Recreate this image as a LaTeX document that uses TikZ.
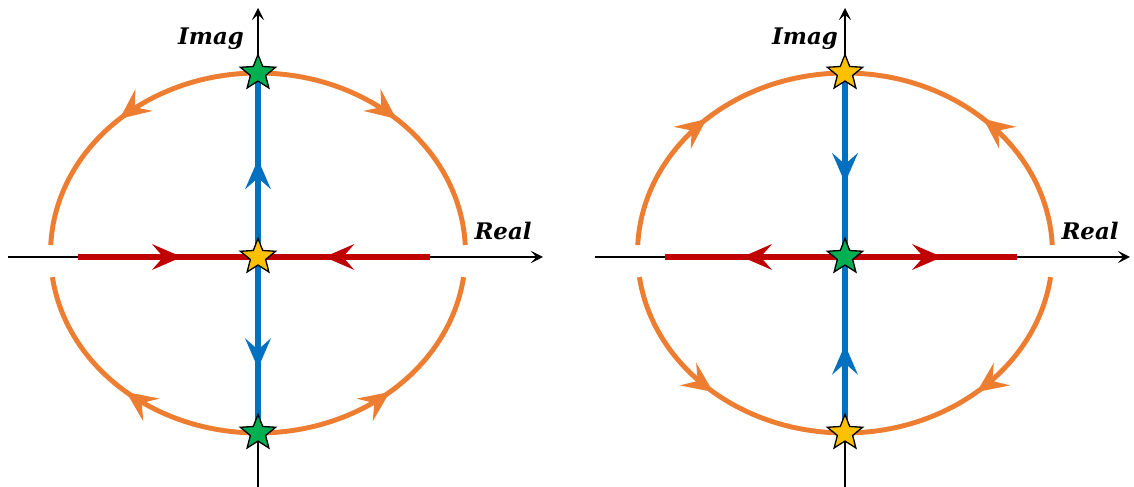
\documentclass[tikz,border=0pt]{standalone}
\usepackage{fontspec}
\newfontfamily\lblfont{DejaVu Serif}
\usetikzlibrary{arrows.meta,shapes.geometric,decorations.markings}
\definecolor{orng}{HTML}{ED7D31}
\definecolor{blu}{HTML}{0070C0}
\definecolor{rd}{HTML}{C00000}
\definecolor{grn}{HTML}{00B050}
\definecolor{ylw}{HTML}{FFC000}
\tikzset{
  bigtip/.tip={Stealth[length=0.6cm,width=0.52cm,inset=0.23cm,line width=0pt]},
  smalltip/.tip={Stealth[length=0.62cm,width=0.56cm,inset=0.24cm,line width=0pt]},
  fwd/.style={postaction={decorate,decoration={markings,mark=at position #1 with {\arrow{bigtip}}}}},
  bwd/.style={postaction={decorate,decoration={markings,mark=at position #1 with {\arrowreversed{bigtip}}}}},
  axisln/.style={line width=0.8pt,black,-{Stealth[length=7pt,width=7pt,inset=3.2pt]}},
  orarc/.style={orng,line width=2.8pt,postaction={decorate,decoration={markings,mark=at position 0.5 with {\arrow{smalltip}}}}},
  orarcrev/.style={orng,line width=2.8pt,postaction={decorate,decoration={markings,mark=at position 0.5 with {\arrowreversed{smalltip}}}}},
  redln/.style={rd,line width=2.9pt},
  bluln/.style={blu,line width=3.3pt},
  starnode/.style={star,star points=5,star point ratio=2.3,minimum size=0.74cm,inner sep=0pt,draw=black,line width=0.75pt},
  lbl/.style={font=\lblfont\bfseries\itshape\fontsize{13}{15}\selectfont,anchor=base,inner sep=0pt},
  ell/.style={x radius=4.15cm,y radius=3.6cm}
}
\begin{document}
\begin{tikzpicture}[x=0.02cm,y=0.02cm]
\useasboundingbox (0,0) rectangle (1134,487);
% ---------- left diagram ----------
\coordinate (T1) at (258,414);
\coordinate (B1) at (258,54);
\coordinate (C1) at (258,230);
\coordinate (HL1) at (8,230);
\coordinate (HR1) at (543,230);
\coordinate (VB1) at (258,0);
\coordinate (VT1) at (258,479);
\coordinate (RL1) at (78,230);
\coordinate (RR1) at (430,230);
\draw[axisln] (HL1) -- (HR1);
\draw[axisln] (VB1) -- (VT1);
\draw[orarc] (T1) arc[start angle=90,end angle=177.5,ell];
\draw[orarc] (T1) arc[start angle=90,end angle=2.5,ell];
\draw[orarc] (B1) arc[start angle=270,end angle=187.7,ell];
\draw[orarc] (B1) arc[start angle=270,end angle=352.3,ell];
\draw[redln,fwd=0.295,bwd=0.70] (RL1) -- (RR1);
\draw[bluln,bwd=0.24,fwd=0.82] (T1) -- (B1);
\node[starnode,fill=grn] (sT1) at (T1) {};
\node[starnode,fill=grn] (sB1) at (B1) {};
\node[starnode,fill=ylw] (sC1) at (C1) {};
\node[lbl] (imag1) at (211,442) {Imag};
\node[lbl] (real1) at (503,247) {Real};
% ---------- right diagram ----------
\begin{scope}[xshift=587*0.02cm]
\coordinate (T2) at (258,414);
\coordinate (B2) at (258,54);
\coordinate (C2) at (258,230);
\coordinate (HL2) at (8,230);
\coordinate (HR2) at (543,230);
\coordinate (VB2) at (258,0);
\coordinate (VT2) at (258,479);
\coordinate (RL2) at (78,230);
\coordinate (RR2) at (430,230);
\draw[axisln] (HL2) -- (HR2);
\draw[axisln] (VB2) -- (VT2);
\draw[orarcrev] (T2) arc[start angle=90,end angle=177.5,ell];
\draw[orarcrev] (T2) arc[start angle=90,end angle=2.5,ell];
\draw[orarcrev] (B2) arc[start angle=270,end angle=187.7,ell];
\draw[orarcrev] (B2) arc[start angle=270,end angle=352.3,ell];
\draw[redln,bwd=0.219,fwd=0.787] (RL2) -- (RR2);
\draw[bluln,fwd=0.305,bwd=0.755] (T2) -- (B2);
\node[starnode,fill=ylw] (sT2) at (T2) {};
\node[starnode,fill=ylw] (sB2) at (B2) {};
\node[starnode,fill=grn] (sC2) at (C2) {};
\node[lbl] (imag2) at (218,442) {Imag};
\node[lbl] (real2) at (503,247) {Real};
\end{scope}
\end{tikzpicture}
\end{document}
